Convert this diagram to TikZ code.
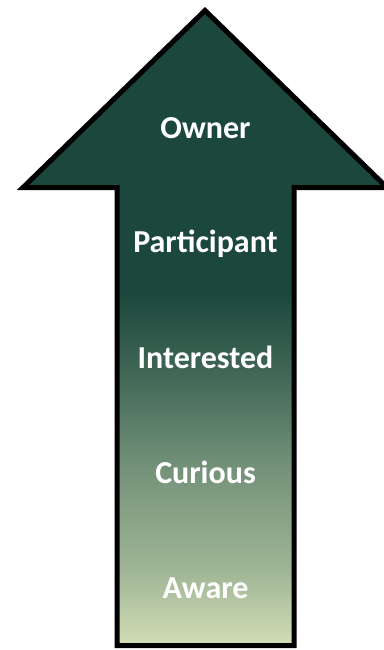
\documentclass[tikz,border=0pt]{standalone}
\usepackage{fontspec}
\setmainfont{Carlito}
\usepackage{xcolor}
\usepackage{tikz}

\definecolor{pine}{HTML}{1B473C}
\definecolor{sage}{HTML}{75937A}
\definecolor{meadow}{HTML}{D2DEB6}

\pgfdeclareverticalshading{growth}{100bp}{
  color(0bp)=(meadow); color(25bp)=(meadow);
  color(31bp)=(meadow!45!sage); color(38.8bp)=(sage);
  color(46bp)=(sage!45!pine); color(52.75bp)=(pine);
  color(100bp)=(pine)}

\tikzset{
  stage/.style={text=white, font=\fontsize{32}{36}\selectfont\bfseries}
}

\begin{document}
\begin{tikzpicture}[x=1pt, y=-1pt]
        \useasboundingbox (0, 0) rectangle (383, 650);

        % the big arrow
        \shade[shading=growth, draw=black, line width=5pt, miter limit=10]
          (205, 10.5) -- (387, 187.5) -- (294, 187.5) -- (294, 645.5)
          -- (117, 645.5) -- (117, 187.5) -- (23, 187.5) -- cycle;

        \node[stage] (owner) at (205.5, 128) {Owner};
        \node[stage] (participant) at (205.5, 244) {Participant};
        \node[stage] (interested) at (205.5, 357) {Interested};
        \node[stage] (curious) at (205.5, 472) {Curious};
        \node[stage] (aware) at (205.5, 588) {Aware};
      \end{tikzpicture}
\end{document}
